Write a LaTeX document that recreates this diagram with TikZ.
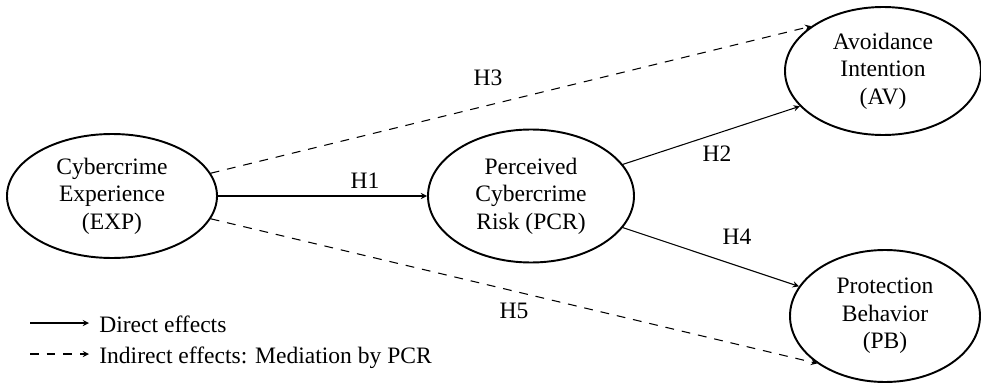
\documentclass[tikz,border=0pt]{standalone}
\usepackage{fontspec}
\setmainfont{Liberation Serif}
\usetikzlibrary{shapes,arrows,positioning}

\begin{document}
\begin{tikzpicture}[
  every node/.style={font=\fontsize{13.4}{15.6}\selectfont},
  construct/.style={ellipse, draw, line width=1.1pt, align=center, inner sep=1pt},
  direct/.style={-stealth, line width=0.6pt},
  indirect/.style={-stealth, line width=0.6pt, dash pattern=on 5pt off 4.5pt},
  hyp/.style={inner sep=0pt},
  legtext/.style={anchor=base west, inner sep=0.2cm}
]
\useasboundingbox (0,0) rectangle (19.62,7.70);

% Constructs
\node[construct, minimum width=4.2cm, minimum height=2.48cm] (exp) at (2.24,3.78) {Cybercrime\\Experience\\(EXP)};
\node[construct, minimum width=4.12cm, minimum height=2.66cm] (pcr) at (10.62,3.78) {Perceived\\Cybercrime\\Risk (PCR)};
\node[construct, minimum width=3.92cm, minimum height=2.56cm] (av) at (17.66,6.28) {Avoidance\\Intention\\(AV)};
\node[construct, minimum width=3.8cm, minimum height=2.64cm] (pb) at (17.70,1.38) {Protection\\Behavior\\(PB)};

% Hypotheses
\draw[direct] (exp) -- (pcr);
\draw[direct] (pcr.19) -- (av.203);
\draw[direct] (pcr.341) -- (pb.161);
\draw[indirect] (exp.13) -- (av.148);
\draw[indirect] (exp.347) -- (pb.215);

\node[hyp] (h1) at (7.30,4.08) {H1};
\node[hyp] (h2) at (14.34,4.62) {H2};
\node[hyp] (h3) at (9.76,6.14) {H3};
\node[hyp] (h4) at (14.74,2.96) {H4};
\node[hyp] (h5) at (10.28,1.48) {H5};

% Legend
\node[legtext] (ldir) at (1.78,1.06) {Direct effects};
\node[legtext] (lind) at (1.78,0.44) {Indirect effects: Mediation by PCR};
\coordinate (ldirs) at (0.6,1.24);
\coordinate (linds) at (0.6,0.62);
\draw[direct] (ldirs) -- (ldirs -| ldir.west);
\draw[indirect] (linds) -- (linds -| lind.west);

\end{tikzpicture}
\end{document}
